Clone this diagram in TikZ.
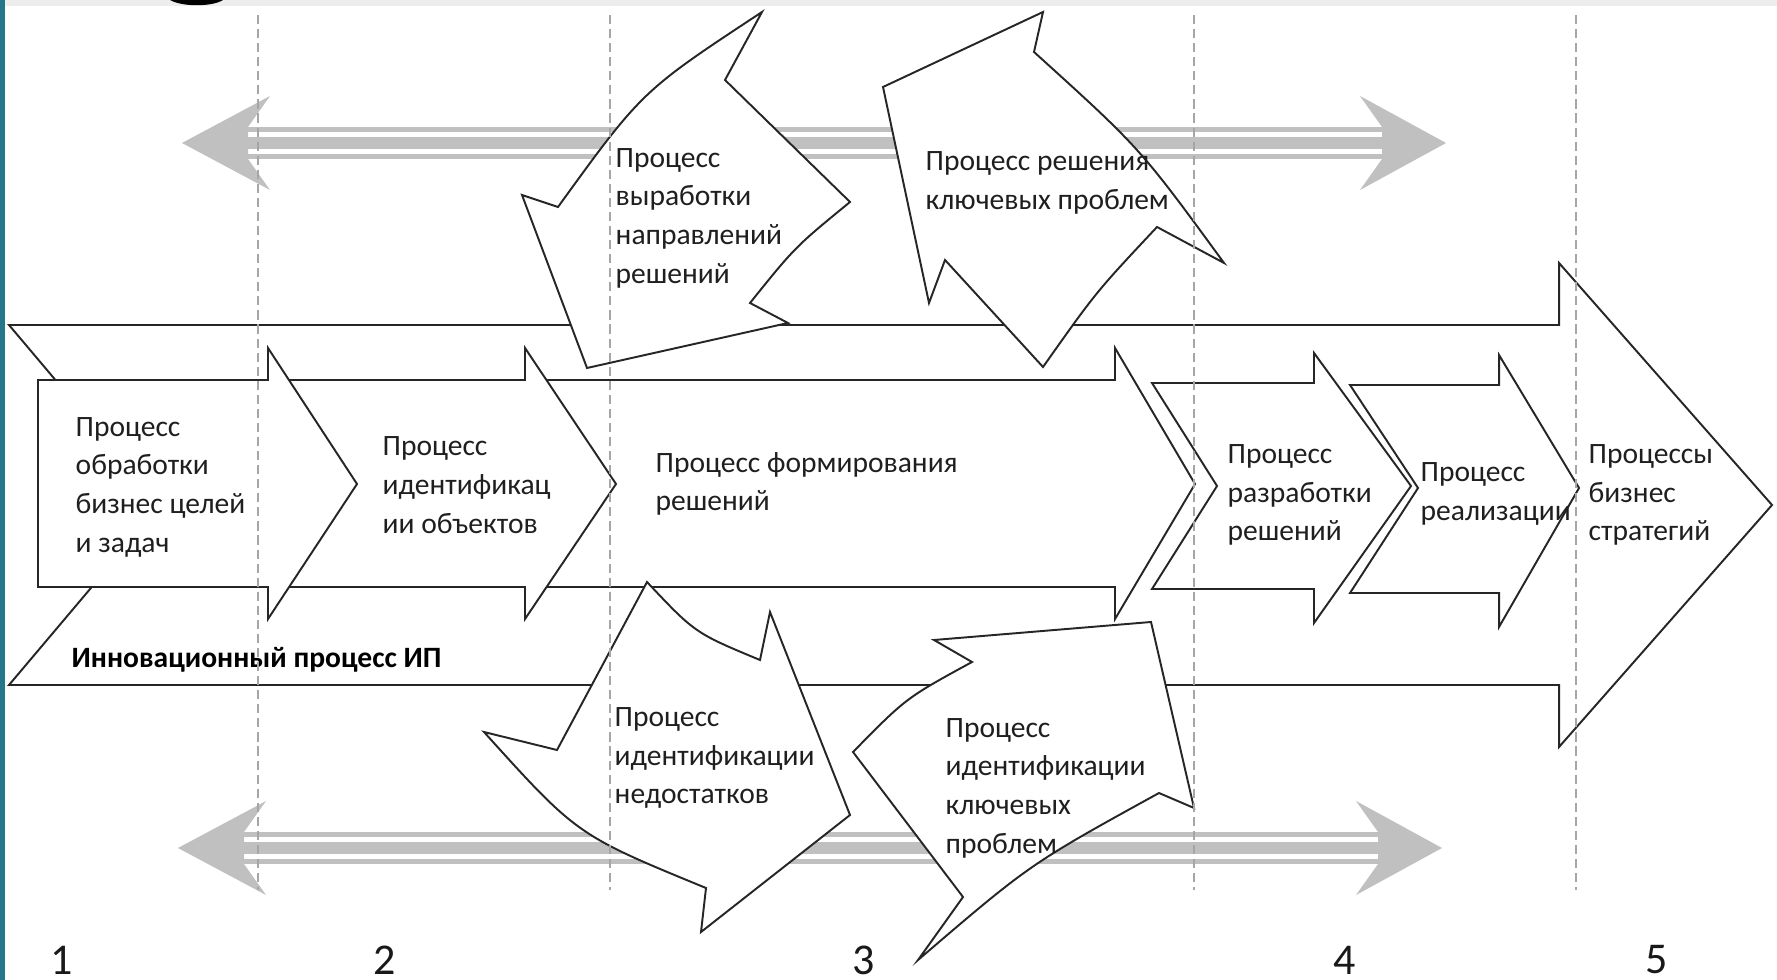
\documentclass[tikz,border=0pt]{standalone}
\usepackage{fontspec}
\setmainfont{Carlito}
\definecolor{slideteal}{RGB}{38,118,138}
\definecolor{arrowgray}{RGB}{192,192,192}
\begin{document}
\begin{tikzpicture}[x=0.01cm,y=-0.01cm,
  shp/.style={draw=black!85, line width=0.55pt, fill=white, line join=miter},
  lbl/.style={anchor=west, align=left, inner sep=0pt, font=\fontsize{8.4}{11}\selectfont, text=black!88},
  garr/.style={fill=arrowgray, draw=none},
  sepline/.style={draw=black!35, line width=0.4pt, dash pattern=on 2.6pt off 1.4pt},
  num/.style={inner sep=0pt, font=\fontsize{12.5}{14}\selectfont, text=black!90}]
\useasboundingbox (0,0) rectangle (1777,980);
% slide background
\fill[white] (0,0) rectangle (1777,980);
\fill[black!7] (0,0) rectangle (1777,6);
\fill[slideteal] (0,0) rectangle (5,980);
\fill[black] (170,0) .. controls (182,7) and (212,7) .. (223,0) -- cycle;
% grey double arrows
\foreach \dx/\dy in {0/0,-4/705}{
  \begin{scope}[shift={(\dx,\dy)}]
    \fill[garr] (182,143) -- (270,96) -- (248,127) -- (248,159) -- (270,190) -- cycle;
    \fill[garr] (1446,143) -- (1360,96) -- (1382,127) -- (1382,159) -- (1360,190) -- cycle;
    \fill[garr] (248,127) rectangle (1382,132);
    \fill[garr] (248,137) rectangle (1382,149);
    \fill[garr] (248,154) rectangle (1382,159);
  \end{scope}
}
% big background arrow
\draw[shp] (9,325) -- (1559,325) -- (1559,263) -- (1772,505) -- (1559,747) -- (1559,685) -- (9,685) -- (161,505) -- cycle;
% process arrows (right to left)
\draw[shp] (1350,385) -- (1499,385) -- (1499,355) -- (1579,488) -- (1499,627) -- (1499,593) -- (1350,593) -- (1418,488) -- cycle;
\draw[shp] (1152,383) -- (1314,383) -- (1314,353) -- (1411,486) -- (1314,623) -- (1314,589) -- (1152,589) -- (1217,486) -- cycle;
\draw[shp] (500,380) -- (1115,380) -- (1115,348) -- (1195,484) -- (1115,619) -- (1115,587) -- (500,587) -- cycle;
\draw[shp] (200,380) -- (525,380) -- (525,348) -- (616,484) -- (525,619) -- (525,587) -- (200,587) -- cycle;
\draw[shp] (38,380) -- (268,380) -- (268,348) -- (357,484) -- (268,619) -- (268,587) -- (38,587) -- cycle;
% curved arrows, top
\draw[shp] (762,12) -- (725,80) -- (850,202) .. controls (795,247) .. (750,303) -- (788,323) -- (587,368) -- (522,195) -- (558,207) .. controls (642,91) .. (762,12) -- cycle;
\draw[shp] (1043,12) -- (1034,52) .. controls (1140,148) .. (1224,263) -- (1157,227) .. controls (1096,292) .. (1043,367) -- (945,260) -- (929,303) -- (883,87) -- cycle;
% curved arrows, bottom
\draw[shp] (647,582) .. controls (695,633) .. (760,660) -- (770,612) -- (850,815) -- (701,932) -- (706,888) .. controls (577,835) .. (484,732) -- (557,750) -- cycle;
\draw[shp] (934,640) -- (972,662) .. controls (906,698) .. (853,752) -- (963,897) -- (918,960) .. controls (1030,864) .. (1159,793) -- (1194,808) -- (1151,622) -- cycle;
% labels
\node[lbl] (t1) at (75,487) {Процесс\\обработки\\бизнес целей\\и задач};
\node[lbl] (t2) at (382,485) {Процесс\\идентификац\\ии объектов};
\node[lbl] (t3) at (655,484) {Процесс формирования\\решений};
\node[lbl] (t4) at (1227,495) {Процесс\\разработки\\решений};
\node[lbl] (t5) at (1420,494) {Процесс\\реализации};
\node[lbl] (t6) at (1588,495) {Процессы\\бизнес\\стратегий};
\node[lbl] (tA) at (615,218) {Процесс\\выработки\\направлений\\решений};
\node[lbl] (tB) at (925,183) {Процесс решения\\ключевых проблем};
\node[lbl] (tC) at (614,758) {Процесс\\идентификации\\недостатков};
\node[lbl] (tD) at (945,788) {Процесс\\идентификации\\ключевых\\проблем};
\node[lbl, font=\bfseries\fontsize{8.4}{11}\selectfont, text=black] (tIP) at (71,660) {Инновационный процесс ИП};
% stage separators
\foreach \sx in {258,610,1194,1576}{
  \draw[sepline] (\sx,15) -- (\sx,890);
}
% stage numbers
\node[num] (n1) at (62,960) {1};
\node[num] (n2) at (385,960) {2};
\node[num] (n3) at (864,960) {3};
\node[num] (n4) at (1345,960) {4};
\node[num] (n5) at (1657,960) {5};
\end{tikzpicture}
\end{document}
